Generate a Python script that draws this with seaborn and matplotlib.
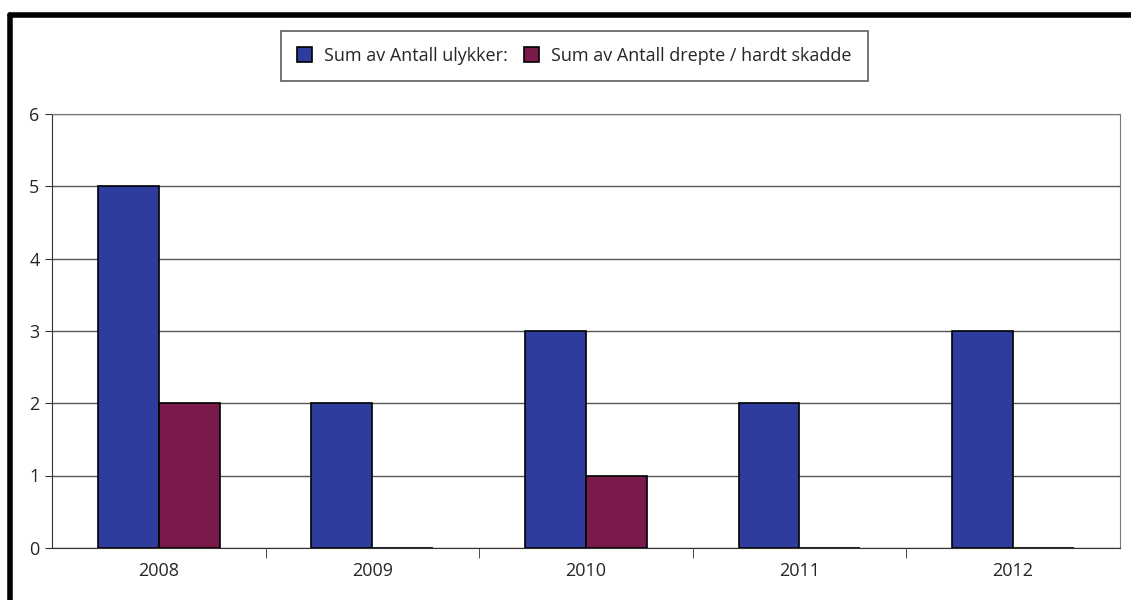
import matplotlib.pyplot as plt
from matplotlib.lines import Line2D
import seaborn as sns
import pandas as pd

years = ["2008", "2009", "2010", "2011", "2012"]
ulykker = [5, 2, 3, 2, 3]
drepte = [2, 0, 1, 0, 0]
series = ["Sum av Antall ulykker:", "Sum av Antall drepte / hardt skadde"]
colors = ["#2e3c9e", "#7a1a4a"]

df = pd.DataFrame({
    "year": years * 2,
    "value": ulykker + drepte,
    "series": [series[0]] * len(years) + [series[1]] * len(years),
})

sns.set_style("white")
plt.rcParams['font.family'] = ['Open Sans', 'DejaVu Sans']

fig = plt.figure(figsize=(11.31, 6), dpi=100)
ax = fig.add_axes([0.046, 0.087, 0.944, 0.723])

sns.barplot(data=df, x="year", y="value", hue="series", palette=colors, saturation=1,
            width=0.57, edgecolor="black", linewidth=1.2, ax=ax, legend=True)

ax.set_ylim(0, 6)
ax.set_xlim(-0.5, len(years) - 0.5)
ax.set_yticks(range(0, 7))
ax.yaxis.grid(True, color="#555555", linewidth=1)
ax.set_axisbelow(True)
ax.set_xlabel("")
ax.set_ylabel("")
for s in ax.spines.values():
    s.set_color("#777777")
ax.spines["left"].set_color("#333333")
ax.spines["bottom"].set_color("#333333")
ax.tick_params(axis="y", left=True, length=5, color="#333333", labelsize=13, pad=4)
ax.tick_params(axis="x", bottom=True, length=0, labelsize=13, pad=10)
ax.set_xticks([i + 0.5 for i in range(len(years) - 1)], minor=True)
ax.tick_params(axis="x", which="minor", bottom=True, length=7, color="#333333")

leg = ax.legend(loc="center", bbox_to_anchor=(0.508, 0.907), bbox_transform=fig.transFigure,
                ncol=2, fontsize=13, frameon=True, fancybox=False, edgecolor="#333333",
                handlelength=0.8, handleheight=0.9, handletextpad=0.7, columnspacing=0.9,
                borderpad=0.9)
leg.get_frame().set_linewidth(1.2)

# thick scanned frame around the chart
fig.add_artist(Line2D([0.009, 0.009], [0, 0.975], transform=fig.transFigure, color="black", linewidth=4))
fig.add_artist(Line2D([0.009, 1.0], [0.975, 0.975], transform=fig.transFigure, color="black", linewidth=4))

fig.savefig("out.png", dpi=100)
